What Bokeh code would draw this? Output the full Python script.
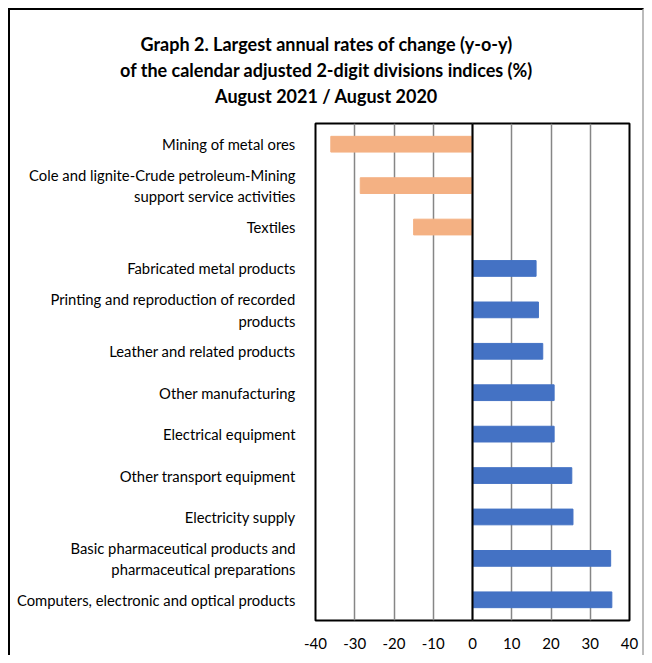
from bokeh.plotting import figure
from bokeh.models import ColumnDataSource, FactorRange, Range1d, Span, Title, FixedTicker
from bokeh.layouts import column
from bokeh.embed import file_html
from bokeh.resources import INLINE

categories = [
    "Mining of metal ores",
    "Cole and lignite-Crude petroleum-Mining\nsupport service activities",
    "Textiles",
    "Fabricated metal products",
    "Printing and reproduction of recorded\nproducts",
    "Leather and related products",
    "Other manufacturing",
    "Electrical equipment",
    "Other transport equipment",
    "Electricity supply",
    "Basic pharmaceutical products and\npharmaceutical preparations",
    "Computers, electronic and optical products",
]
values = [-36.1, -28.6, -15.0, 16.2, 16.8, 17.9, 20.8, 20.8, 25.3, 25.6, 35.2, 35.5]
x_ticks = [-40, -30, -20, -10, 0, 10, 20, 30, 40]
x_tick_labels = ["-40", "-30", "-20", "-10", "0", "10", "20", "30", "40"]
title_lines = [
    "Graph 2. Largest annual rates of change (y-o-y)",
    "of the calendar adjusted 2-digit divisions indices (%)",
    "August 2021 / August 2020",
]

NEG = "#F4B183"
POS = "#4472C4"
colors = [NEG if v < 0 else POS for v in values]
source = ColumnDataSource(dict(cat=categories, val=values, color=colors))

FONT = "Lato"

# title figure: titles stacked below an empty frame
t = figure(width=632, height=97, output_backend="svg", toolbar_location=None,
           x_range=Range1d(0, 1), y_range=Range1d(0, 1), min_border=0)
t.frame_align = False
t.axis.visible = False
t.grid.visible = False
t.outline_line_color = None
for line in title_lines:
    tt = Title(text=line, align="center", text_font=FONT, text_font_size="18px",
               text_font_style="bold", text_color="#000000", standoff=2)
    t.add_layout(tt, "below")

p = figure(width=632, height=548, output_backend="svg", toolbar_location=None,
           y_range=FactorRange(factors=list(reversed(categories))),
           x_range=Range1d(-40, 40),
           min_border_left=305, min_border_right=13, min_border_top=16,
           min_border_bottom=35)
p.frame_align = False

p.hbar(y="cat", left=0, right="val", height=0.38, color="color", source=source)

p.outline_line_color = "#000000"
p.outline_line_width = 2
p.ygrid.visible = False
p.xgrid.grid_line_color = "#868686"
p.xgrid.grid_line_width = 1.5
p.xaxis.ticker = FixedTicker(ticks=x_ticks)
p.xaxis.major_label_overrides = dict(zip(x_ticks, x_tick_labels))
p.add_layout(Span(location=0, dimension="height", line_color="#000000", line_width=2))

for ax in (p.xaxis, p.yaxis):
    ax.axis_line_color = None
    ax.major_tick_line_color = None
    ax.minor_tick_line_color = None
    ax.major_label_text_font = FONT
    ax.major_label_text_color = "#000000"

p.yaxis.major_label_text_font_size = "14.8px"
p.yaxis.major_label_standoff = 14
p.xaxis.major_label_text_font_size = "15px"
p.xaxis.major_label_standoff = 11

layout = column(t, p, spacing=0,
                styles={"margin-left": "8px", "margin-top": "8px",
                        "border-left": "2px solid #000000", "border-top": "2px solid #000000",
                        "border-right": "2px solid #bbbbbb"})

open("out.html", "w").write(file_html(layout, INLINE))
